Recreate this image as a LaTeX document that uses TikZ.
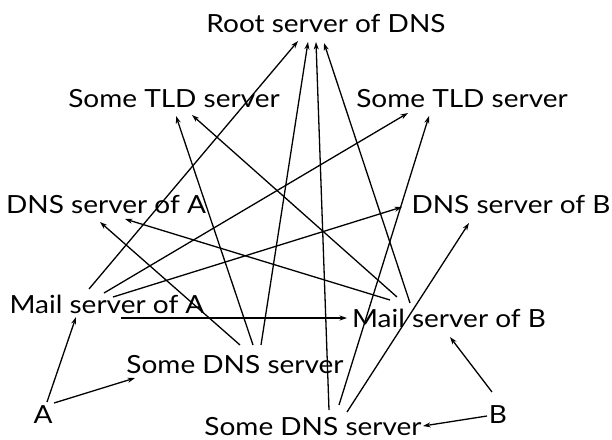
\documentclass[tikz,border=0pt]{standalone}
\usepackage{fontspec}
\setmainfont{Lato}[FakeStretch=1.12]
\usetikzlibrary{arrows.meta}

\begin{document}
\begin{tikzpicture}[x=1pt, y=-1pt,
  server/.style={anchor=base, inner sep=0pt, font=\fontsize{25}{30}\selectfont},
  link/.style={line width=1.3pt, -{Stealth[length=7.5pt,width=5pt]}}]
\useasboundingbox (0,0) rectangle (612,439);

% The servers
\node[server] (root) at (326,32) {Root server of DNS};
\node[server] (tldL) at (174,107) {Some TLD server};
\node[server] (tldR) at (462,107) {Some TLD server};
\node[server] (dnsA) at (106,213) {DNS server of A};
\node[server] (dnsB) at (511,213) {DNS server of B};
\node[server] (mailA) at (107,313) {Mail server of A};
\node[server] (mailB) at (449,327) {Mail server of B};
\node[server] (someL) at (235,373) {Some DNS server};
\node[server] (someR) at (313,435) {Some DNS server};
\node[server] (A) at (43,423) {A};
\node[server] (B) at (498,423) {B};

% From A and B
\draw[link] ([shift={(4,-21)}]A.base) -- ([shift={(-31,4)}]mailA.base);
\draw[link] ([shift={(11,-20)}]A.base) -- ([shift={(-100,5)}]someL.base);
\draw[link] ([shift={(-6,-31)}]B.base) -- ([shift={(1,10)}]mailB.base);
\draw[link] ([shift={(-11,-7)}]B.base) -- ([shift={(110,-9)}]someR.base);

% Mail server of A
\draw[link] ([shift={(-18,-24)}]mailA.base) -- ([shift={(-28,9)}]root.base);
\draw[link] ([shift={(-3,-20)}]mailA.base) -- ([shift={(-54,6)}]tldR.base);
\draw[link] ([shift={(6,-16)}]mailA.base) -- ([shift={(-109,-6)}]dnsB.base);
\draw[link] ([shift={(14,5)}]mailA.base) -- ([shift={(-102,-9)}]mailB.base);

% Mail server of B
\draw[link] ([shift={(-59,-27)}]mailB.base) -- ([shift={(19,6)}]dnsA.base);
\draw[link] ([shift={(-52,-30)}]mailB.base) -- ([shift={(18,8)}]tldL.base);
\draw[link] ([shift={(-39,-24)}]mailB.base) -- ([shift={(-2,11)}]root.base);

% The two other DNS servers
\draw[link] ([shift={(5,-28)}]someL.base) -- ([shift={(-6,9)}]dnsA.base);
\draw[link] ([shift={(18,-28)}]someL.base) -- ([shift={(2,9)}]tldL.base);
\draw[link] ([shift={(26,-28)}]someL.base) -- ([shift={(-18,10)}]root.base);
\draw[link] ([shift={(16,-25)}]someR.base) -- ([shift={(-10,10)}]root.base);
\draw[link] ([shift={(26,-30)}]someR.base) -- ([shift={(-33,9)}]tldR.base);
\draw[link] ([shift={(34,-23)}]someR.base) -- ([shift={(-42,10)}]dnsB.base);
\end{tikzpicture}
\end{document}
